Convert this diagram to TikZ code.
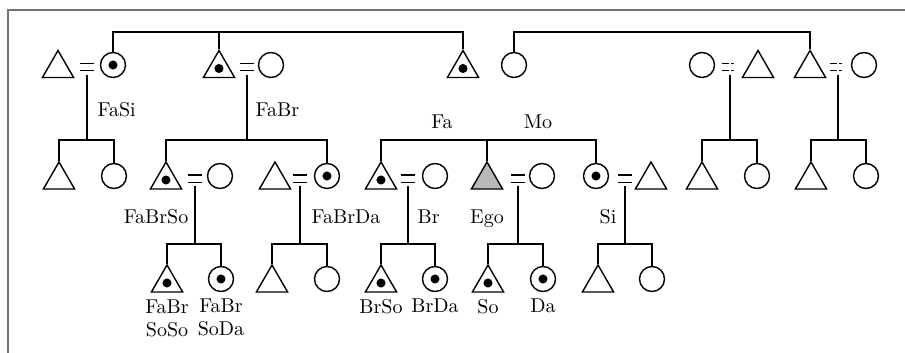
\documentclass[tikz,border=0pt]{standalone}
\usetikzlibrary{shapes,positioning}

\begin{document}
\begin{tikzpicture}[x=0.5pt, y=-0.5pt, line width=0.7pt]
        \tikzstyle{male} = [regular polygon, regular polygon sides=3, draw,
                            minimum size=18pt, inner sep=0pt]
        \tikzstyle{female} = [circle, draw, minimum size=12.5pt, inner sep=0pt]
        \tikzstyle{marked} = [label={[circle, fill, inner sep=1.6pt]center:{}}]
        \tikzstyle{ego} = [fill=black!28]
        \tikzstyle{marr} = [minimum width=6.5pt, minimum height=3pt, inner sep=0pt,
            append after command={(\tikzlastnode.north west) edge (\tikzlastnode.north east)
                                  (\tikzlastnode.south west) edge (\tikzlastnode.south east)}]
        \tikzstyle{marrq} = [minimum width=7pt, minimum height=3pt, inner sep=0pt,
            append after command={(\tikzlastnode.north west)
                                  edge[dash pattern=on 3.5pt off 1pt on 1.5pt] (\tikzlastnode.north east)
                                  (\tikzlastnode.south west)
                                  edge[dash pattern=on 3.5pt off 1pt on 1.5pt] (\tikzlastnode.south east)}]
        \tikzstyle{descent} = [shorten <=2pt]
        \tikzstyle{txt} = [font=\fontsize{10}{11.5}\selectfont, inner sep=0pt]

        \useasboundingbox (0,0) rectangle (905,353);
        \draw[black!55, line width=0.8pt] (905,10) -- (8,10) -- (8,353);

        % first generation
        \node[male] (fasiHu) at (58,68.5) {};
        \node[marr] (fasiM) at (87,67) {};
        \node[female, marked] (fasi) at (113,65) {};
        \node[male, marked] (fabr) at (219,68.5) {};
        \node[marr] (fabrM) at (247,67) {};
        \node[female] (fabrWi) at (271,65) {};
        \node[male, marked] (fa) at (463,68.5) {};
        \node[female] (mo) at (514,65) {};
        \node[female] (mosi) at (702,65) {};
        \node[marrq] (mosiM) at (730,67) {};
        \node[male] (mosiHu) at (758,68.5) {};
        \node[male] (mobr) at (810,68.5) {};
        \node[marrq] (mobrM) at (838,67) {};
        \node[female] (mobrWi) at (864,65) {};

        \coordinate (fabrT) at (fabr |- 0,32);
        \coordinate (moT) at (mo |- 0,32);
        \draw (fasi) |- (fabrT) -| (fa);
        \draw (fabr) -- (fabrT);
        \draw (mo) -- (moT) -| (mobr);

        \node[txt, anchor=base west] (lfasi) at (97,117) {FaSi};
        \node[txt, anchor=base west] (lfabr) at (255,117) {FaBr};
        \node[txt, anchor=base] (lfa) at (442,128) {Fa};
        \node[txt, anchor=base] (lmo) at (538,128) {Mo};

        % second generation
        \node[male] (fasiSo) at (59,180) {};
        \node[female] (fasiDa) at (114,176) {};
        \coordinate (fasiK) at (fasiM |- 0,140);
        \draw[descent] (fasiM) -- (fasiK);
        \draw (fasiSo) |- (fasiK) -| (fasiDa);

        \node[male, marked] (fabrso) at (166,180) {};
        \node[marr] (fabrsoM) at (195,178.5) {};
        \node[female] (fabrsoWi) at (220,176) {};
        \node[male] (fabrdaHu) at (275,180) {};
        \node[marr] (fabrdaM) at (300,178.5) {};
        \node[female, marked] (fabrda) at (327,176) {};
        \coordinate (fabrK) at (fabrM |- 0,140);
        \draw[descent] (fabrM) -- (fabrK);
        \draw (fabrso) |- (fabrK) -| (fabrda);

        \node[male, marked] (br) at (381,180) {};
        \node[marr] (brM) at (408,178.5) {};
        \node[female] (brWi) at (435,176) {};
        \node[male, ego] (ego) at (487,180) {};
        \node[marr] (egoM) at (518,178.5) {};
        \node[female] (egoWi) at (542,176) {};
        \node[female, marked] (si) at (596,176) {};
        \node[marr] (siM) at (625,178.5) {};
        \node[male] (siHu) at (651,180) {};
        \coordinate (egoK) at (ego |- 0,140);
        \draw (br) |- (egoK) -| (si);
        \draw (ego) -- (egoK);

        \node[male] (mosiSo) at (702,180) {};
        \node[female] (mosiDa) at (757,176) {};
        \coordinate (mosiK) at (mosiM |- 0,140);
        \draw[descent] (mosiM) -- (mosiK);
        \draw (mosiSo) |- (mosiK) -| (mosiDa);

        \node[male] (mobrSo) at (811,180) {};
        \node[female] (mobrDa) at (866,176) {};
        \coordinate (mobrK) at (mobrM |- 0,140);
        \draw[descent] (mobrM) -- (mobrK);
        \draw (mobrSo) |- (mobrK) -| (mobrDa);

        \node[txt, anchor=base east] (lfabrso) at (189,223) {FaBrSo};
        \node[txt, anchor=base west] (lfabrda) at (311,223) {FaBrDa};
        \node[txt, anchor=base west] (lbr) at (417,223) {Br};
        \node[txt, anchor=base] (lego) at (487,223) {Ego};
        \node[txt, anchor=base] (lsi) at (608,223) {Si};

        % third generation
        \node[male, marked] (fbss) at (167,283) {};
        \node[female, marked] (fbsd) at (221,279) {};
        \coordinate (fabrsoK) at (fabrsoM |- 0,244);
        \draw[descent] (fabrsoM) -- (fabrsoK);
        \draw (fbss) |- (fabrsoK) -| (fbsd);

        \node[male] (fbdS) at (272,283) {};
        \node[female] (fbdD) at (327,279) {};
        \coordinate (fabrdaK) at (fabrdaM |- 0,244);
        \draw[descent] (fabrdaM) -- (fabrdaK);
        \draw (fbdS) |- (fabrdaK) -| (fbdD);

        \node[male, marked] (brso) at (381,283) {};
        \node[female, marked] (brda) at (435,279) {};
        \coordinate (brK) at (brM |- 0,244);
        \draw[descent] (brM) -- (brK);
        \draw (brso) |- (brK) -| (brda);

        \node[male, marked] (so) at (488,283) {};
        \node[female, marked] (da) at (543,279) {};
        \coordinate (egoC) at (egoM |- 0,244);
        \draw[descent] (egoM) -- (egoC);
        \draw (so) |- (egoC) -| (da);

        \node[male] (siS) at (598,283) {};
        \node[female] (siD) at (652,279) {};
        \coordinate (siK) at (siM |- 0,244);
        \draw[descent] (siM) -- (siK);
        \draw (siS) |- (siK) -| (siD);

        \node[txt, below=3pt of fbss, align=center] (lfbss) {FaBr\\SoSo};
        \node[txt, below=3pt of fbsd, align=center] (lfbsd) {FaBr\\SoDa};
        \node[txt, below=3pt of brso] (lbrso) {BrSo};
        \node[txt, below=3pt of brda] (lbrda) {BrDa};
        \node[txt, below=3pt of so] (lso) {So};
        \node[txt, below=3pt of da] (lda) {Da};
\end{tikzpicture}
\end{document}
